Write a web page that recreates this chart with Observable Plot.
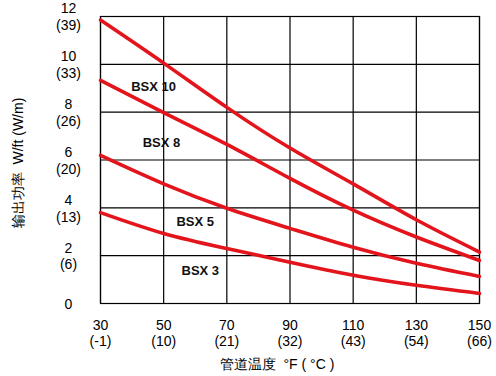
<!DOCTYPE html>
<html>
<head>
<meta charset="utf-8">
<script src="https://cdn.jsdelivr.net/npm/d3@7"></script>
<script src="https://cdn.jsdelivr.net/npm/@observablehq/plot@0.6"></script>
<style>
  html, body { margin: 0; padding: 0; background: #fff; }
  svg { display: block; }
</style>
</head>
<body>
<div id="chart"></div>
<script>
const temps = [30, 50, 70, 90, 110, 130, 150];
const tempC = ["(-1)", "(10)", "(21)", "(32)", "(43)", "(54)", "(66)"];
const yTicks = [0, 2, 4, 6, 8, 10, 12];
const yTicksM = ["", "(6)", "(13)", "(20)", "(26)", "(33)", "(39)"];
const bsx10 = [11.85, 10.05, 8.2, 6.5, 5.0, 3.5, 2.15];
const bsx8 = [9.33, 7.98, 6.65, 5.23, 3.9, 2.78, 1.8];
const bsx5 = [6.19, 5.0, 3.98, 3.14, 2.35, 1.68, 1.13];
const bsx3 = [3.8, 2.93, 2.3, 1.72, 1.18, 0.76, 0.42];
const seriesNames = ["BSX 10", "BSX 8", "BSX 5", "BSX 3"];
const labelX = [46.8, 49.3, 60, 61.6];
const labelY = [9.07, 6.73, 3.43, 1.38];
const yTitle = "输出功率\u00a0\u00a0W/ft (W/m)";
const xTitle = "管道温度\u00a0\u00a0°F ( °C )";

const allSeries = [bsx10, bsx8, bsx5, bsx3];
const rows = [];
allSeries.forEach((vals, s) => vals.forEach((v, i) => rows.push({series: seriesNames[s], t: temps[i], w: v})));
const labels = seriesNames.map((n, i) => ({name: n, x: labelX[i], y: labelY[i]}));

const font = "'Liberation Sans', Arial, Helvetica, sans-serif";
const chart = Plot.plot({
  width: 496,
  height: 376,
  marginLeft: 100,
  marginRight: 17,
  marginTop: 16,
  marginBottom: 73,
  style: {fontFamily: font, fontSize: "14px", background: "#fff", overflow: "visible"},
  x: {domain: [30, 150]},
  y: {domain: [0, 12]},
  marks: [
    Plot.gridX(temps, {stroke: "#000", strokeOpacity: 1, strokeWidth: 1.2}),
    Plot.gridY(yTicks, {stroke: "#000", strokeOpacity: 1, strokeWidth: 1.2}),
    Plot.frame({stroke: "#000", strokeWidth: 1.2}),
    Plot.axisX(temps, {tickSize: 0, tickPadding: 15, fontSize: 14, lineHeight: 1.15,
      tickFormat: (d) => d + "\n" + tempC[temps.indexOf(d)]}),
    Plot.axisY(yTicks, {tickSize: 0, tickPadding: 32, textAnchor: "middle", fontSize: 14, lineHeight: 1.2,
      tickFormat: (d) => {const m = yTicksM[yTicks.indexOf(d)]; return m ? d + "\n" + m : String(d);}}),
    Plot.line(rows, {x: "t", y: "w", z: "series", stroke: "#e3141b", strokeWidth: 3.6, curve: "natural"}),
    Plot.text(labels, {x: "x", y: "y", text: "name", fontWeight: "bold", fontSize: 13, fill: "#111"}),
    Plot.text([yTitle], {frameAnchor: "left", textAnchor: "middle", dx: -82, dy: 3, rotate: -90, fontSize: 14, fill: "#000"}),
    Plot.text([xTitle], {frameAnchor: "bottom", textAnchor: "middle", dy: 65, dx: -13, fontSize: 14, fill: "#000"})
  ]
});
document.getElementById("chart").appendChild(chart);
</script>
</body>
</html>
